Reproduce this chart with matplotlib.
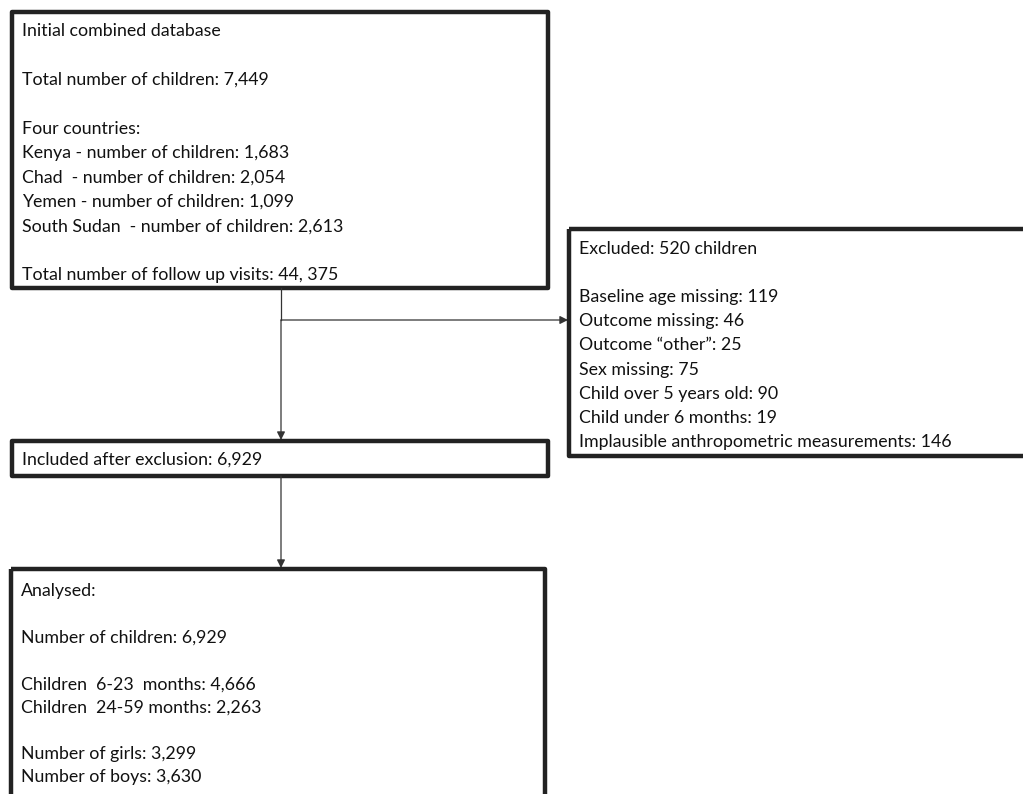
import matplotlib
matplotlib.use("agg")
import matplotlib.pyplot as plt
from matplotlib.patches import Rectangle

# box contents, one string per text line ("" is an empty line)
initialLines = [
    "Initial combined database",
    "",
    "Total number of children: 7,449",
    "",
    "Four countries:",
    "Kenya - number of children: 1,683",
    "Chad  - number of children: 2,054",
    "Yemen - number of children: 1,099",
    "South Sudan  - number of children: 2,613",
    "",
    "Total number of follow up visits: 44, 375",
]
excludedLines = [
    "Excluded: 520 children",
    "",
    "Baseline age missing: 119",
    "Outcome missing: 46",
    "Outcome \u201cother\u201d: 25",
    "Sex missing: 75",
    "Child over 5 years old: 90",
    "Child under 6 months: 19",
    "Implausible anthropometric measurements: 146",
]
includedLines = [
    "Included after exclusion: 6,929",
]
analysedLines = [
    "Analysed:",
    "",
    "Number of children: 6,929",
    "",
    "Children  6-23  months: 4,666",
    "Children  24-59 months: 2,263",
    "",
    "Number of girls: 3,299",
    "Number of boys: 3,630",
]

W, H = 1023, 794
fig = plt.figure(figsize=(W / 100, H / 100), dpi=100)
ax = fig.add_axes([0, 0, 1, 1])
ax.set_xlim(0, W)
ax.set_ylim(H, 0)
ax.axis("off")

FONT = "Lato"
FS = 12.8
EDGE = "#222222"


def drawBox(x0, y0, x1, y1, lines, firstY, step):
    ax.add_patch(Rectangle((x0, y0), x1 - x0, y1 - y0, fill=False,
                           edgecolor=EDGE, linewidth=3.2, joinstyle="round",
                           clip_on=False))
    for i, line in enumerate(lines):
        if line:
            ax.text(x0 + 10, firstY + i * step + 2, line, ha="left", va="center",
                    fontsize=FS, family=FONT, color="#111111")


def arrow(x0, y0, x1, y1):
    ax.annotate("", xy=(x1, y1), xytext=(x0, y0),
                arrowprops=dict(arrowstyle="-|>", color="#333333", lw=0.9,
                                mutation_scale=12, shrinkA=0, shrinkB=0))


drawBox(12, 12, 548, 288, initialLines, 29, 24.4)
drawBox(569, 229, 1030, 456, excludedLines, 247, 24.1)
drawBox(12, 441, 548, 476, includedLines, 458, 24)
drawBox(11, 569, 545, 810, analysedLines, 589, 23.3)

ax.plot([281, 281], [288, 320], color="#333333", lw=0.9)
arrow(281, 320, 281, 440)
arrow(281, 320, 568, 320)
arrow(281, 476, 281, 568)

fig.savefig("out.png", dpi=100, facecolor="w")
